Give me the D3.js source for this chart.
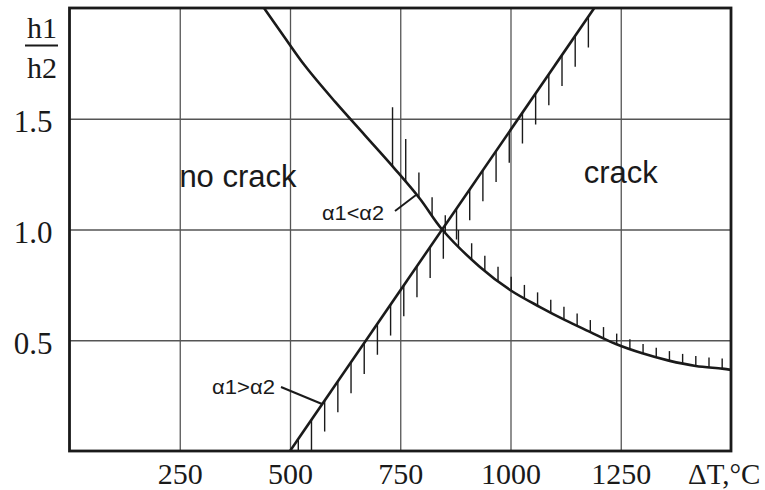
<!DOCTYPE html>
<html><head><meta charset="utf-8">
<script src="https://cdn.jsdelivr.net/npm/d3@7"></script>
<style>body{margin:0;background:#fff}svg{display:block}</style>
</head><body>
<svg id="c" width="765" height="490"></svg>
<script>
// ---- data ----
const xTicks = [250, 500, 750, 1000, 1250];
const yTicks = [0.5, 1.0, 1.5];
const yTickLabels = ["0.5", "1.0", "1.5"];
const xUnitLabel = "ΔT,°C";
// alpha1 > alpha2 : straight line (ΔT, h1/h2)
const lineA = [[500, 0], [1190, 2.0]];
// alpha1 < alpha2 : hyperbola-like curve
const curveB = [[441,2.0],[482,1.884],[534,1.739],[602,1.577],[670,1.425],[738,1.273],[795,1.138],[845,1.0],[930,0.832],[999,0.727],[1067,0.65],[1124,0.591],[1179,0.539],[1239,0.483],[1299,0.441],[1359,0.408],[1420,0.384],[1480,0.372],[1500,0.366]];
const regionLabels = [["no crack", 382, 1.19], ["crack", 1250, 1.21]];

// ---- layout ----
const svg = d3.select("#c");
const x = d3.scaleLinear([0, 1500], [69.5, 731]);
const y = d3.scaleLinear([0, 2], [451, 8]);
const ink = "#1a1a1a";

svg.append("defs").append("clipPath").attr("id", "pc")
  .append("rect").attr("x", x(0)).attr("y", y(2)).attr("width", x(1500) - x(0)).attr("height", y(0) - y(2));

// grid via axes
const gx = svg.append("g").attr("transform", `translate(0,${y(0)})`)
  .call(d3.axisBottom(x).tickValues(xTicks).tickSize(-(y(0) - y(2))).tickFormat(d3.format("d")));
gx.select(".domain").remove();
gx.selectAll("line").attr("stroke", "#555").attr("stroke-width", 1.3);
gx.selectAll("text").attr("y", 33).attr("dy", 0)
  .attr("font-family", "Liberation Serif, Times New Roman, serif").attr("font-size", 30).attr("fill", ink);

const gy = svg.append("g").attr("transform", `translate(${x(0)},0)`)
  .call(d3.axisLeft(y).tickValues(yTicks).tickSize(-(x(1500) - x(0))).tickFormat((d, i) => yTickLabels[i]));
gy.select(".domain").remove();
gy.selectAll("line").attr("stroke", "#555").attr("stroke-width", 1.3);
gy.selectAll("text").attr("x", -17).attr("dy", "0.42em")
  .attr("font-family", "Liberation Serif, Times New Roman, serif").attr("font-size", 31).attr("fill", ink);

svg.append("text").attr("x", 688).attr("y", 484).text(xUnitLabel)
  .attr("font-family", "Liberation Serif, Times New Roman, serif").attr("font-size", 29).attr("fill", ink);

// y label fraction
const yl = svg.append("g").attr("font-family", "Liberation Serif, Times New Roman, serif").attr("fill", ink);
yl.append("text").attr("x", 42).attr("y", 38).attr("text-anchor", "middle").attr("font-size", 30).text("h1");
yl.append("line").attr("x1", 25).attr("x2", 58).attr("y1", 45.5).attr("y2", 45.5).attr("stroke", ink).attr("stroke-width", 1.8);
yl.append("text").attr("x", 42).attr("y", 78).attr("text-anchor", "middle").attr("font-size", 30).text("h2");

const plot = svg.append("g").attr("clip-path", "url(#pc)");
const gen = d3.line().x(d => x(d[0])).y(d => y(d[1]));

// hatches on straight line (downwards)
const la = (t) => lineA[0][1] + (t - lineA[0][0]) * (lineA[1][1] - lineA[0][1]) / (lineA[1][0] - lineA[0][0]);
const hatchStep = 29.9;
d3.range(518.8, 1180, hatchStep).forEach(t => {
  plot.append("line").attr("x1", x(t)).attr("x2", x(t)).attr("y1", y(la(t))).attr("y2", y(la(t)) + 31)
    .attr("stroke", ink).attr("stroke-width", 1.4);
});

// curve path (smooth), hatches (upwards)
const curvePath = plot.append("path").datum(curveB).attr("d", gen.curve(d3.curveCatmullRom.alpha(0.5)))
  .attr("fill", "none").attr("stroke", ink).attr("stroke-width", 2.6);
const pathNode = curvePath.node();
const totalLen = pathNode.getTotalLength();
function curveYAt(px) {
  let lo = 0, hi = totalLen;
  for (let i = 0; i < 40; i++) {
    const mid = (lo + hi) / 2;
    if (pathNode.getPointAtLength(mid).x < px) lo = mid; else hi = mid;
  }
  return pathNode.getPointAtLength((lo + hi) / 2).y;
}
const hatchLen = d3.scaleLinear([727, 757, 788, 818, 880, 1000, 1180, 1300, 1480], [62, 46, 26, 19, 17, 14, 12, 9.5, 10]);
d3.range(1480, 720, -hatchStep).forEach(t => {
  const cy = curveYAt(x(t));
  plot.append("line").attr("x1", x(t)).attr("x2", x(t)).attr("y1", cy).attr("y2", cy - hatchLen(t))
    .attr("stroke", ink).attr("stroke-width", 1.4);
});

plot.append("path").datum(lineA).attr("d", gen.curve(d3.curveLinear)).attr("fill", "none").attr("stroke", ink).attr("stroke-width", 2.6);

// frame
svg.append("rect").attr("x", x(0)).attr("y", y(2)).attr("width", x(1500) - x(0)).attr("height", y(0) - y(2))
  .attr("fill", "none").attr("stroke", ink).attr("stroke-width", 2.8);

// region labels
regionLabels.forEach(([t, vx, vy]) => {
  svg.append("text").attr("x", x(vx)).attr("y", y(vy)).attr("text-anchor", "middle")
    .attr("font-family", "Liberation Sans, Arial, sans-serif").attr("font-size", 31).attr("fill", ink).text(t);
});

// annotations
const ann = svg.append("g").attr("fill", ink).attr("font-family", "Liberation Sans Narrow, Liberation Sans, Arial, sans-serif").attr("font-size", 20);
ann.append("text").attr("x", 322).attr("y", 220).attr("textLength", 62).attr("lengthAdjust", "spacingAndGlyphs").text("α1<α2");
ann.append("line").attr("x1", 395).attr("y1", 211).attr("x2", 416).attr("y2", 195).attr("stroke", ink).attr("stroke-width", 2);
ann.append("text").attr("x", 212).attr("y", 394).attr("textLength", 63).attr("lengthAdjust", "spacingAndGlyphs").text("α1>α2");
ann.append("line").attr("x1", 281).attr("y1", 387).attr("x2", 322).attr("y2", 404).attr("stroke", ink).attr("stroke-width", 2);
</script>
</body></html>
